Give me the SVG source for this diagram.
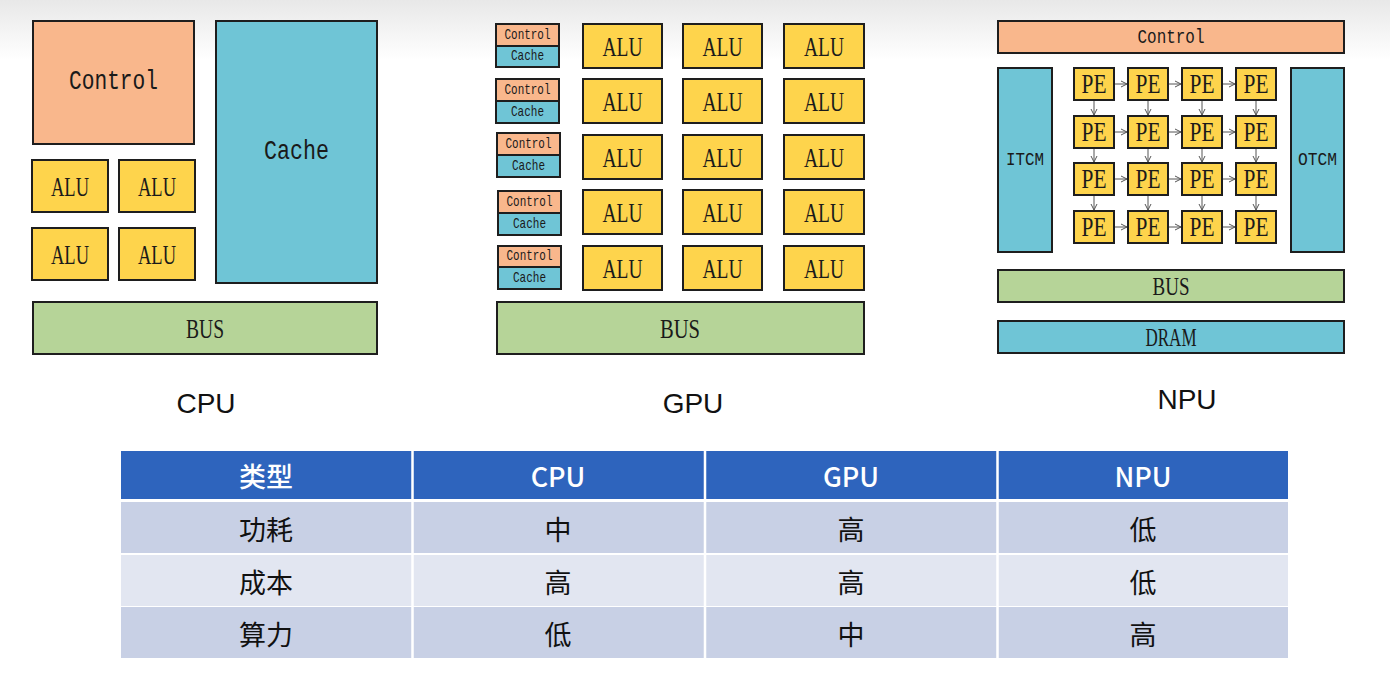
<svg xmlns="http://www.w3.org/2000/svg" width="1390" height="681" viewBox="0 0 1390 681">
<defs>
<linearGradient id="bg" x1="0" y1="0" x2="0" y2="1">
<stop offset="0" stop-color="#e8e8e8"/>
<stop offset="1" stop-color="#ffffff"/>
</linearGradient>
<marker id="ah" markerWidth="8" markerHeight="8" refX="7" refY="4" orient="auto" markerUnits="userSpaceOnUse">
<path d="M1,1 L7,4 L1,7" fill="none" stroke="#555" stroke-width="1"/>
</marker>
<style>
.b{stroke:#1e1e1e;stroke-width:2}
.ctl{fill:#f9b78c}
.cac{fill:#6fc5d6}
.alu{fill:#fed44c}
.bus{fill:#b6d498}
.t{font-family:"Liberation Serif",serif;text-anchor:middle;dominant-baseline:central;fill:#1a1a1a}
.m{font-family:"Liberation Mono",monospace}
.lbl{font-family:"Liberation Sans","Noto Sans",sans-serif;font-size:28px;text-anchor:middle;fill:#111}
.ar{stroke:#555;stroke-width:1;fill:none;marker-end:url(#ah)}
.th{font-family:"Noto Sans CJK SC","Noto Sans",sans-serif;font-size:27px;font-weight:500;fill:#fff;text-anchor:middle;dominant-baseline:central}
.td{font-family:"Noto Sans CJK SC","Noto Sans",sans-serif;font-size:27px;fill:#111;text-anchor:middle;dominant-baseline:central}
</style>
</defs>
<rect x="0" y="0" width="1390" height="681" fill="#fff"/>
<rect x="0" y="0" width="1390" height="60" fill="url(#bg)"/>

<!-- CPU -->
<g id="cpu">
<g id="cpu-control"><rect class="b ctl" x="33" y="21" width="161" height="123"/><text class="t m" x="113.5" y="82" font-size="27" textLength="89" lengthAdjust="spacingAndGlyphs">Control</text></g>
<g id="cpu-cache"><rect class="b cac" x="216" y="21" width="161" height="262"/><text class="t m" x="296.5" y="152" font-size="27" textLength="65" lengthAdjust="spacingAndGlyphs">Cache</text></g>
<g id="cpu-alu1"><rect class="b alu" x="32" y="160" width="76" height="52"/><text class="t" x="70" y="186" font-size="28" textLength="38" lengthAdjust="spacingAndGlyphs">ALU</text></g>
<g id="cpu-alu2"><rect class="b alu" x="119" y="160" width="76" height="52"/><text class="t" x="157" y="186" font-size="28" textLength="38" lengthAdjust="spacingAndGlyphs">ALU</text></g>
<g id="cpu-alu3"><rect class="b alu" x="32" y="228" width="76" height="52"/><text class="t" x="70" y="254" font-size="28" textLength="38" lengthAdjust="spacingAndGlyphs">ALU</text></g>
<g id="cpu-alu4"><rect class="b alu" x="119" y="228" width="76" height="52"/><text class="t" x="157" y="254" font-size="28" textLength="38" lengthAdjust="spacingAndGlyphs">ALU</text></g>
<g id="cpu-bus"><rect class="b bus" x="33" y="302" width="344" height="52"/><text class="t" x="205" y="328" font-size="28" textLength="38" lengthAdjust="spacingAndGlyphs">BUS</text></g>
<text id="cpu-label" class="lbl" x="206" y="413">CPU</text>
</g>

<!-- GPU -->
<g id="gpu">
<g id="gpu-cc1"><rect class="b ctl" x="496" y="24" width="63" height="22"/><rect class="b cac" x="496" y="46" width="63" height="21"/><text class="t m" x="527.5" y="35" font-size="15" textLength="46" lengthAdjust="spacingAndGlyphs">Control</text><text class="t m" x="527.5" y="56.5" font-size="15" textLength="33" lengthAdjust="spacingAndGlyphs">Cache</text></g>
<g id="gpu-cc2"><rect class="b ctl" x="496" y="79" width="63" height="22"/><rect class="b cac" x="496" y="101" width="63" height="22"/><text class="t m" x="527.5" y="90" font-size="15" textLength="46" lengthAdjust="spacingAndGlyphs">Control</text><text class="t m" x="527.5" y="112" font-size="15" textLength="33" lengthAdjust="spacingAndGlyphs">Cache</text></g>
<g id="gpu-cc3"><rect class="b ctl" x="497" y="133" width="63" height="22"/><rect class="b cac" x="497" y="155" width="63" height="22"/><text class="t m" x="528.5" y="144" font-size="15" textLength="46" lengthAdjust="spacingAndGlyphs">Control</text><text class="t m" x="528.5" y="166" font-size="15" textLength="33" lengthAdjust="spacingAndGlyphs">Cache</text></g>
<g id="gpu-cc4"><rect class="b ctl" x="498" y="191" width="63" height="22"/><rect class="b cac" x="498" y="213" width="63" height="22"/><text class="t m" x="529.5" y="202" font-size="15" textLength="46" lengthAdjust="spacingAndGlyphs">Control</text><text class="t m" x="529.5" y="224" font-size="15" textLength="33" lengthAdjust="spacingAndGlyphs">Cache</text></g>
<g id="gpu-cc5"><rect class="b ctl" x="498" y="246" width="63" height="21"/><rect class="b cac" x="498" y="267" width="63" height="22"/><text class="t m" x="529.5" y="256.5" font-size="15" textLength="46" lengthAdjust="spacingAndGlyphs">Control</text><text class="t m" x="529.5" y="278" font-size="15" textLength="33" lengthAdjust="spacingAndGlyphs">Cache</text></g>

<g id="gpu-alu-r1"><rect class="b alu" x="583" y="24" width="79" height="44"/><text class="t" x="622.5" y="46" font-size="28" textLength="40" lengthAdjust="spacingAndGlyphs">ALU</text><rect class="b alu" x="683" y="24" width="79" height="44"/><text class="t" x="722.5" y="46" font-size="28" textLength="40" lengthAdjust="spacingAndGlyphs">ALU</text><rect class="b alu" x="784" y="24" width="80" height="44"/><text class="t" x="824" y="46" font-size="28" textLength="40" lengthAdjust="spacingAndGlyphs">ALU</text></g>
<g id="gpu-alu-r2"><rect class="b alu" x="583" y="79" width="79" height="44"/><text class="t" x="622.5" y="101" font-size="28" textLength="40" lengthAdjust="spacingAndGlyphs">ALU</text><rect class="b alu" x="683" y="79" width="79" height="44"/><text class="t" x="722.5" y="101" font-size="28" textLength="40" lengthAdjust="spacingAndGlyphs">ALU</text><rect class="b alu" x="784" y="79" width="80" height="44"/><text class="t" x="824" y="101" font-size="28" textLength="40" lengthAdjust="spacingAndGlyphs">ALU</text></g>
<g id="gpu-alu-r3"><rect class="b alu" x="583" y="135" width="79" height="44"/><text class="t" x="622.5" y="157" font-size="28" textLength="40" lengthAdjust="spacingAndGlyphs">ALU</text><rect class="b alu" x="683" y="135" width="79" height="44"/><text class="t" x="722.5" y="157" font-size="28" textLength="40" lengthAdjust="spacingAndGlyphs">ALU</text><rect class="b alu" x="784" y="135" width="80" height="44"/><text class="t" x="824" y="157" font-size="28" textLength="40" lengthAdjust="spacingAndGlyphs">ALU</text></g>
<g id="gpu-alu-r4"><rect class="b alu" x="583" y="190" width="79" height="44"/><text class="t" x="622.5" y="212" font-size="28" textLength="40" lengthAdjust="spacingAndGlyphs">ALU</text><rect class="b alu" x="683" y="190" width="79" height="44"/><text class="t" x="722.5" y="212" font-size="28" textLength="40" lengthAdjust="spacingAndGlyphs">ALU</text><rect class="b alu" x="784" y="190" width="80" height="44"/><text class="t" x="824" y="212" font-size="28" textLength="40" lengthAdjust="spacingAndGlyphs">ALU</text></g>
<g id="gpu-alu-r5"><rect class="b alu" x="583" y="246" width="79" height="44"/><text class="t" x="622.5" y="268" font-size="28" textLength="40" lengthAdjust="spacingAndGlyphs">ALU</text><rect class="b alu" x="683" y="246" width="79" height="44"/><text class="t" x="722.5" y="268" font-size="28" textLength="40" lengthAdjust="spacingAndGlyphs">ALU</text><rect class="b alu" x="784" y="246" width="80" height="44"/><text class="t" x="824" y="268" font-size="28" textLength="40" lengthAdjust="spacingAndGlyphs">ALU</text></g>
<g id="gpu-bus"><rect class="b bus" x="497" y="302" width="367" height="52"/><text class="t" x="680" y="328" font-size="28" textLength="40" lengthAdjust="spacingAndGlyphs">BUS</text></g>
<text id="gpu-label" class="lbl" x="693" y="413">GPU</text>
</g>

<!-- NPU -->
<g id="npu">
<g id="npu-control"><rect class="b ctl" x="998" y="21" width="346" height="32"/><text class="t m" x="1171" y="37" font-size="20" textLength="67" lengthAdjust="spacingAndGlyphs">Control</text></g>
<g id="npu-itcm"><rect class="b cac" x="998" y="68" width="54" height="184"/><text class="t m" x="1025" y="160" font-size="19" textLength="38" lengthAdjust="spacingAndGlyphs">ITCM</text></g>
<g id="npu-otcm"><rect class="b cac" x="1291" y="68" width="53" height="184"/><text class="t m" x="1317.5" y="160" font-size="19" textLength="39" lengthAdjust="spacingAndGlyphs">OTCM</text></g>
<g id="npu-pes">
<rect class="b alu" x="1074" y="68" width="40" height="32"/><text class="t" x="1094" y="84" font-size="27" textLength="25" lengthAdjust="spacingAndGlyphs">PE</text>
<rect class="b alu" x="1128" y="68" width="40" height="32"/><text class="t" x="1148" y="84" font-size="27" textLength="25" lengthAdjust="spacingAndGlyphs">PE</text>
<rect class="b alu" x="1182" y="68" width="40" height="32"/><text class="t" x="1202" y="84" font-size="27" textLength="25" lengthAdjust="spacingAndGlyphs">PE</text>
<rect class="b alu" x="1236" y="68" width="40" height="32"/><text class="t" x="1256" y="84" font-size="27" textLength="25" lengthAdjust="spacingAndGlyphs">PE</text>
<rect class="b alu" x="1074" y="116" width="40" height="32"/><text class="t" x="1094" y="132" font-size="27" textLength="25" lengthAdjust="spacingAndGlyphs">PE</text>
<rect class="b alu" x="1128" y="116" width="40" height="32"/><text class="t" x="1148" y="132" font-size="27" textLength="25" lengthAdjust="spacingAndGlyphs">PE</text>
<rect class="b alu" x="1182" y="116" width="40" height="32"/><text class="t" x="1202" y="132" font-size="27" textLength="25" lengthAdjust="spacingAndGlyphs">PE</text>
<rect class="b alu" x="1236" y="116" width="40" height="32"/><text class="t" x="1256" y="132" font-size="27" textLength="25" lengthAdjust="spacingAndGlyphs">PE</text>
<rect class="b alu" x="1074" y="163" width="40" height="32"/><text class="t" x="1094" y="179" font-size="27" textLength="25" lengthAdjust="spacingAndGlyphs">PE</text>
<rect class="b alu" x="1128" y="163" width="40" height="32"/><text class="t" x="1148" y="179" font-size="27" textLength="25" lengthAdjust="spacingAndGlyphs">PE</text>
<rect class="b alu" x="1182" y="163" width="40" height="32"/><text class="t" x="1202" y="179" font-size="27" textLength="25" lengthAdjust="spacingAndGlyphs">PE</text>
<rect class="b alu" x="1236" y="163" width="40" height="32"/><text class="t" x="1256" y="179" font-size="27" textLength="25" lengthAdjust="spacingAndGlyphs">PE</text>
<rect class="b alu" x="1074" y="211" width="40" height="32"/><text class="t" x="1094" y="227" font-size="27" textLength="25" lengthAdjust="spacingAndGlyphs">PE</text>
<rect class="b alu" x="1128" y="211" width="40" height="32"/><text class="t" x="1148" y="227" font-size="27" textLength="25" lengthAdjust="spacingAndGlyphs">PE</text>
<rect class="b alu" x="1182" y="211" width="40" height="32"/><text class="t" x="1202" y="227" font-size="27" textLength="25" lengthAdjust="spacingAndGlyphs">PE</text>
<rect class="b alu" x="1236" y="211" width="40" height="32"/><text class="t" x="1256" y="227" font-size="27" textLength="25" lengthAdjust="spacingAndGlyphs">PE</text>
</g>
<g id="npu-bus"><rect class="b bus" x="998" y="270" width="346" height="32"/><text class="t" x="1171" y="286" font-size="26" textLength="37" lengthAdjust="spacingAndGlyphs">BUS</text></g>
<g id="npu-dram"><rect class="b cac" x="998" y="321" width="346" height="32"/><text class="t" x="1171" y="337" font-size="26" textLength="51" lengthAdjust="spacingAndGlyphs">DRAM</text></g>
<text id="npu-label" class="lbl" x="1187" y="409">NPU</text>
</g>

<g id="connectors">
<path class="ar" d="M1115,84 H1127"/><path class="ar" d="M1169,84 H1181"/><path class="ar" d="M1223,84 H1235"/>
<path class="ar" d="M1115,132 H1127"/><path class="ar" d="M1169,132 H1181"/><path class="ar" d="M1223,132 H1235"/>
<path class="ar" d="M1115,179 H1127"/><path class="ar" d="M1169,179 H1181"/><path class="ar" d="M1223,179 H1235"/>
<path class="ar" d="M1115,227 H1127"/><path class="ar" d="M1169,227 H1181"/><path class="ar" d="M1223,227 H1235"/>
<path class="ar" d="M1094,101 V115"/><path class="ar" d="M1148,101 V115"/><path class="ar" d="M1202,101 V115"/><path class="ar" d="M1256,101 V115"/>
<path class="ar" d="M1094,149 V162"/><path class="ar" d="M1148,149 V162"/><path class="ar" d="M1202,149 V162"/><path class="ar" d="M1256,149 V162"/>
<path class="ar" d="M1094,196 V210"/><path class="ar" d="M1148,196 V210"/><path class="ar" d="M1202,196 V210"/><path class="ar" d="M1256,196 V210"/>
</g>

<!-- Table -->
<g id="table">
<rect x="121" y="451" width="1167" height="48" fill="#2e64bd"/>
<rect x="121" y="502" width="1167" height="51" fill="#c8d0e5"/>
<rect x="121" y="555" width="1167" height="51" fill="#e2e6f1"/>
<rect x="121" y="607" width="1167" height="51" fill="#c8d0e5"/>
<path d="M412.5,451 V658 M705,451 V658 M997.5,451 V658" stroke="#fff" stroke-width="2.5"/>
<text class="th" x="266" y="475" font-weight="bold">类型</text>
<text class="th" x="558" y="475">CPU</text>
<text class="th" x="851" y="475">GPU</text>
<text class="th" x="1143" y="475">NPU</text>
<text class="td" x="266" y="528">功耗</text>
<text class="td" x="558" y="528">中</text>
<text class="td" x="851" y="528">高</text>
<text class="td" x="1143" y="528">低</text>
<text class="td" x="266" y="581">成本</text>
<text class="td" x="558" y="581">高</text>
<text class="td" x="851" y="581">高</text>
<text class="td" x="1143" y="581">低</text>
<text class="td" x="266" y="633">算力</text>
<text class="td" x="558" y="633">低</text>
<text class="td" x="851" y="633">中</text>
<text class="td" x="1143" y="633">高</text>
</g>
</svg>
